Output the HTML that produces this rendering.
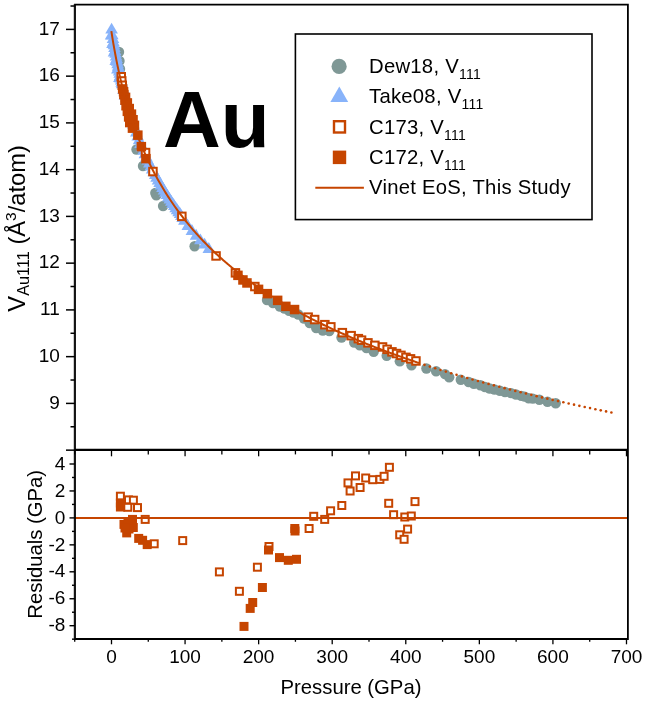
<!DOCTYPE html>
<html><head><meta charset="utf-8"><style>
html,body{margin:0;padding:0;background:#fff;width:645px;height:702px;overflow:hidden;font-family:"Liberation Sans",sans-serif}
</style></head><body>
<svg width="645" height="702" viewBox="0 0 645 702" style="position:absolute;left:0;top:0;will-change:transform">
<g fill="#7f9896">
<circle cx="119.0" cy="52.0" r="5.2"/>
<circle cx="119.5" cy="61.0" r="5.2"/>
<circle cx="120.0" cy="69.0" r="5.2"/>
<circle cx="136.5" cy="149.5" r="5.2"/>
<circle cx="143.0" cy="166.0" r="5.2"/>
<circle cx="155.3" cy="193.0" r="5.2"/>
<circle cx="156.3" cy="195.3" r="5.2"/>
<circle cx="163.1" cy="206.0" r="5.2"/>
<circle cx="194.6" cy="246.3" r="5.2"/>
<circle cx="267.0" cy="300.0" r="5.2"/>
<circle cx="273.0" cy="303.0" r="5.2"/>
<circle cx="279.9" cy="306.5" r="5.2"/>
<circle cx="284.5" cy="308.5" r="5.2"/>
<circle cx="289.1" cy="310.8" r="5.2"/>
<circle cx="293.5" cy="312.5" r="5.2"/>
<circle cx="298.3" cy="314.5" r="5.2"/>
<circle cx="304.0" cy="318.5" r="5.2"/>
<circle cx="309.7" cy="323.0" r="5.2"/>
<circle cx="316.2" cy="328.0" r="5.2"/>
<circle cx="322.8" cy="330.5" r="5.2"/>
<circle cx="329.3" cy="331.0" r="5.2"/>
<circle cx="341.5" cy="337.5" r="5.2"/>
<circle cx="354.2" cy="342.5" r="5.2"/>
<circle cx="359.8" cy="345.3" r="5.2"/>
<circle cx="366.5" cy="348.0" r="5.2"/>
<circle cx="373.7" cy="351.8" r="5.2"/>
<circle cx="386.7" cy="355.8" r="5.2"/>
<circle cx="399.8" cy="361.3" r="5.2"/>
<circle cx="411.5" cy="365.2" r="5.2"/>
<circle cx="426.4" cy="368.5" r="5.2"/>
<circle cx="436.1" cy="371.3" r="5.2"/>
<circle cx="445.0" cy="374.1" r="5.2"/>
<circle cx="449.2" cy="377.3" r="5.2"/>
<circle cx="460.8" cy="379.7" r="5.2"/>
<circle cx="468.7" cy="382.0" r="5.2"/>
<circle cx="473.9" cy="383.8" r="5.2"/>
<circle cx="480.4" cy="385.2" r="5.2"/>
<circle cx="485.0" cy="387.0" r="5.2"/>
<circle cx="489.7" cy="388.5" r="5.2"/>
<circle cx="494.5" cy="389.5" r="5.2"/>
<circle cx="499.9" cy="390.8" r="5.2"/>
<circle cx="505.0" cy="392.0" r="5.2"/>
<circle cx="511.1" cy="393.1" r="5.2"/>
<circle cx="516.0" cy="394.5" r="5.2"/>
<circle cx="521.3" cy="395.9" r="5.2"/>
<circle cx="524.7" cy="396.6" r="5.2"/>
<circle cx="528.7" cy="398.3" r="5.2"/>
<circle cx="532.8" cy="398.6" r="5.2"/>
<circle cx="539.4" cy="399.7" r="5.2"/>
<circle cx="547.5" cy="401.7" r="5.2"/>
<circle cx="555.7" cy="403.2" r="5.2"/>
</g>
<g fill="#88b3fa">
<path d="M111.6 22.7L117.9 33.6L105.3 33.6Z"/>
<path d="M112.3 28.4L118.6 39.3L106.0 39.3Z"/>
<path d="M113.0 32.2L119.3 43.1L106.7 43.1Z"/>
<path d="M113.5 35.3L119.8 46.2L107.2 46.2Z"/>
<path d="M114.0 38.3L120.3 49.2L107.7 49.2Z"/>
<path d="M114.5 41.2L120.8 52.1L108.2 52.1Z"/>
<path d="M115.0 44.1L121.3 55.0L108.7 55.0Z"/>
<path d="M115.6 46.8L121.9 57.7L109.3 57.7Z"/>
<path d="M116.1 49.6L122.4 60.5L109.8 60.5Z"/>
<path d="M116.6 52.2L122.9 63.1L110.3 63.1Z"/>
<path d="M117.1 54.8L123.4 65.7L110.8 65.7Z"/>
<path d="M117.6 57.3L123.9 68.2L111.3 68.2Z"/>
<path d="M118.1 59.8L124.4 70.7L111.8 70.7Z"/>
<path d="M118.6 62.2L124.9 73.1L112.3 73.1Z"/>
<path d="M119.2 64.6L125.5 75.5L112.9 75.5Z"/>
<path d="M119.7 66.9L126.0 77.8L113.4 77.8Z"/>
<path d="M120.2 69.2L126.5 80.1L113.9 80.1Z"/>
<path d="M120.7 71.5L127.0 82.4L114.4 82.4Z"/>
<path d="M121.2 73.7L127.5 84.6L114.9 84.6Z"/>
<path d="M121.7 75.8L128.0 86.7L115.4 86.7Z"/>
<path d="M122.1 77.3L128.4 88.2L115.8 88.2Z"/>
<path d="M123.5 83.2L129.8 94.1L117.2 94.1Z"/>
<path d="M124.9 88.7L131.2 99.6L118.6 99.6Z"/>
<path d="M126.4 94.1L132.7 105.0L120.1 105.0Z"/>
<path d="M127.8 99.1L134.1 110.0L121.5 110.0Z"/>
<path d="M129.2 104.0L135.5 114.9L122.9 114.9Z"/>
<path d="M130.6 108.7L136.9 119.6L124.3 119.6Z"/>
<path d="M132.0 113.2L138.3 124.1L125.7 124.1Z"/>
<path d="M133.4 117.5L139.7 128.4L127.1 128.4Z"/>
<path d="M134.9 121.7L141.2 132.6L128.6 132.6Z"/>
<path d="M136.3 125.7L142.6 136.6L130.0 136.6Z"/>
<path d="M137.7 129.6L144.0 140.5L131.4 140.5Z"/>
<path d="M139.1 133.3L145.4 144.2L132.8 144.2Z"/>
<path d="M140.5 137.0L146.8 147.9L134.2 147.9Z"/>
<path d="M142.0 140.5L148.3 151.4L135.7 151.4Z"/>
<path d="M143.5 143.9L149.8 154.8L137.2 154.8Z"/>
<path d="M144.9 147.3L151.2 158.2L138.6 158.2Z"/>
<path d="M146.4 150.5L152.7 161.4L140.1 161.4Z"/>
<path d="M147.8 153.6L154.1 164.5L141.5 164.5Z"/>
<path d="M149.3 156.7L155.6 167.6L143.0 167.6Z"/>
<path d="M150.8 159.7L157.1 170.6L144.5 170.6Z"/>
<path d="M152.2 162.6L158.5 173.5L145.9 173.5Z"/>
<path d="M153.7 165.4L160.0 176.3L147.4 176.3Z"/>
<path d="M155.2 168.2L161.5 179.1L148.9 179.1Z"/>
<path d="M156.6 170.9L162.9 181.8L150.3 181.8Z"/>
<path d="M158.1 173.5L164.4 184.4L151.8 184.4Z"/>
<path d="M159.6 176.1L165.9 187.0L153.3 187.0Z"/>
<path d="M161.0 178.7L167.3 189.6L154.7 189.6Z"/>
<path d="M162.5 181.1L168.8 192.0L156.2 192.0Z"/>
<path d="M164.0 183.5L170.3 194.4L157.7 194.4Z"/>
<path d="M165.4 185.9L171.7 196.8L159.1 196.8Z"/>
<path d="M166.9 188.2L173.2 199.1L160.6 199.1Z"/>
<path d="M168.3 190.5L174.6 201.4L162.0 201.4Z"/>
<path d="M169.8 192.7L176.1 203.6L163.5 203.6Z"/>
<path d="M171.3 194.9L177.6 205.8L165.0 205.8Z"/>
<path d="M172.7 197.1L179.0 208.0L166.4 208.0Z"/>
<path d="M174.2 199.2L180.5 210.1L167.9 210.1Z"/>
<path d="M175.7 201.3L182.0 212.2L169.4 212.2Z"/>
<path d="M177.1 203.3L183.4 214.2L170.8 214.2Z"/>
<path d="M178.6 205.3L184.9 216.2L172.3 216.2Z"/>
<path d="M180.1 207.2L186.4 218.1L173.8 218.1Z"/>
<path d="M181.4 209.2L187.7 220.1L175.1 220.1Z"/>
<path d="M182.6 211.1L188.9 222.0L176.3 222.0Z"/>
<path d="M184.4 213.9L190.7 224.8L178.1 224.8Z"/>
<path d="M187.8 219.1L194.1 230.0L181.5 230.0Z"/>
<path d="M191.9 224.0L198.2 234.9L185.6 234.9Z"/>
<path d="M196.1 228.8L202.4 239.7L189.8 239.7Z"/>
<path d="M200.4 233.4L206.7 244.3L194.1 244.3Z"/>
<path d="M204.6 237.7L210.9 248.6L198.3 248.6Z"/>
<path d="M208.8 242.0L215.1 252.9L202.5 252.9Z"/>
<path d="M111.1 28.6L117.4 39.5L104.8 39.5Z"/>
<path d="M112.5 37.2L118.8 48.1L106.2 48.1Z"/>
<path d="M114.0 45.7L120.3 56.6L107.7 56.6Z"/>
<path d="M115.7 54.2L122.0 65.1L109.4 65.1Z"/>
<path d="M117.4 62.7L123.7 73.6L111.1 73.6Z"/>
<path d="M119.4 71.2L125.7 82.1L113.1 82.1Z"/>
</g>
<g fill="#fff" stroke="#c64500" stroke-width="2">
<rect x="117.5" y="73.0" width="7.5" height="7.5"/>
<rect x="118.0" y="77.2" width="7.5" height="7.5"/>
<rect x="118.5" y="81.5" width="7.5" height="7.5"/>
<rect x="141.8" y="148.8" width="7.5" height="7.5"/>
<rect x="149.2" y="167.8" width="7.5" height="7.5"/>
<rect x="178.1" y="212.6" width="7.5" height="7.5"/>
<rect x="212.3" y="252.2" width="7.5" height="7.5"/>
<rect x="231.7" y="269.1" width="7.5" height="7.5"/>
<rect x="251.1" y="282.8" width="7.5" height="7.5"/>
<rect x="304.4" y="313.4" width="7.5" height="7.5"/>
<rect x="310.9" y="315.8" width="7.5" height="7.5"/>
<rect x="321.1" y="320.9" width="7.5" height="7.5"/>
<rect x="327.1" y="323.1" width="7.5" height="7.5"/>
<rect x="338.6" y="328.9" width="7.5" height="7.5"/>
<rect x="347.4" y="331.9" width="7.5" height="7.5"/>
<rect x="354.6" y="334.9" width="7.5" height="7.5"/>
<rect x="357.8" y="336.4" width="7.5" height="7.5"/>
<rect x="364.2" y="339.1" width="7.5" height="7.5"/>
<rect x="371.1" y="341.6" width="7.5" height="7.5"/>
<rect x="378.8" y="343.2" width="7.5" height="7.5"/>
<rect x="383.4" y="345.6" width="7.5" height="7.5"/>
<rect x="388.2" y="348.1" width="7.5" height="7.5"/>
<rect x="392.8" y="349.8" width="7.5" height="7.5"/>
<rect x="397.2" y="351.6" width="7.5" height="7.5"/>
<rect x="402.2" y="353.6" width="7.5" height="7.5"/>
<rect x="406.8" y="355.1" width="7.5" height="7.5"/>
<rect x="412.2" y="357.2" width="7.5" height="7.5"/>
</g>
<g fill="#c64500">
<rect x="117.9" y="84.2" width="9.5" height="9.5"/>
<rect x="118.8" y="87.0" width="9.5" height="9.5"/>
<rect x="119.1" y="89.8" width="9.5" height="9.5"/>
<rect x="120.8" y="92.6" width="9.5" height="9.5"/>
<rect x="120.2" y="95.4" width="9.5" height="9.5"/>
<rect x="122.6" y="98.2" width="9.5" height="9.5"/>
<rect x="121.3" y="101.0" width="9.5" height="9.5"/>
<rect x="124.5" y="103.8" width="9.5" height="9.5"/>
<rect x="122.6" y="106.6" width="9.5" height="9.5"/>
<rect x="126.7" y="109.4" width="9.5" height="9.5"/>
<rect x="123.9" y="112.2" width="9.5" height="9.5"/>
<rect x="128.3" y="115.0" width="9.5" height="9.5"/>
<rect x="125.0" y="117.8" width="9.5" height="9.5"/>
<rect x="129.7" y="120.6" width="9.5" height="9.5"/>
<rect x="127.7" y="123.4" width="9.5" height="9.5"/>
<rect x="133.1" y="130.4" width="9.5" height="9.5"/>
<rect x="136.6" y="141.9" width="9.5" height="9.5"/>
<rect x="141.2" y="153.9" width="9.5" height="9.5"/>
<rect x="233.2" y="270.6" width="9.5" height="9.5"/>
<rect x="238.2" y="275.2" width="9.5" height="9.5"/>
<rect x="242.2" y="278.2" width="9.5" height="9.5"/>
<rect x="253.8" y="284.6" width="9.5" height="9.5"/>
<rect x="262.6" y="288.9" width="9.5" height="9.5"/>
<rect x="272.9" y="295.6" width="9.5" height="9.5"/>
<rect x="281.1" y="301.6" width="9.5" height="9.5"/>
<rect x="289.8" y="304.8" width="9.5" height="9.5"/>
</g>
<path d="M111.35 31.09 L112.38 37.64 L113.41 43.82 L114.44 49.68 L115.47 55.26 L116.50 60.57 L117.53 65.64 L118.56 70.50 L119.58 75.16 L120.61 79.63 L121.64 83.94 L122.67 88.09 L123.70 92.10 L124.73 95.97 L125.76 99.71 L126.79 103.34 L127.82 106.86 L128.85 110.27 L129.87 113.59 L130.90 116.81 L131.93 119.95 L132.96 123.00 L133.99 125.97 L135.02 128.87 L136.05 131.70 L137.08 134.46 L138.11 137.16 L139.14 139.79 L140.16 142.37 L141.19 144.89 L142.22 147.36 L143.25 149.77 L144.28 152.14 L145.31 154.46 L146.34 156.73 L147.37 158.96 L148.40 161.14 L149.43 163.29 L150.45 165.40 L151.48 167.47 L152.51 169.50 L153.54 171.50 L154.57 173.46 L155.60 175.39 L156.63 177.29 L157.66 179.16 L158.69 181.00 L159.72 182.80 L160.74 184.59 L161.77 186.34 L162.80 188.07 L163.83 189.77 L164.86 191.45 L165.89 193.10 L166.92 194.73 L167.95 196.34 L168.98 197.92 L170.01 199.48 L171.03 201.02 L172.06 202.54 L173.09 204.05 L174.12 205.53 L175.15 206.99 L176.18 208.43 L177.21 209.86 L178.24 211.27 L179.27 212.66 L180.30 214.03 L181.32 215.39 L182.35 216.73 L183.38 218.06 L184.41 219.37 L185.44 220.67 L186.47 221.95 L187.50 223.21 L188.53 224.47 L189.56 225.71 L190.59 226.93 L191.61 228.14 L192.64 229.34 L193.67 230.53 L194.70 231.71 L195.73 232.87 L196.76 234.02 L197.79 235.16 L198.82 236.28 L199.85 237.40 L200.88 238.51 L201.90 239.60 L202.93 240.69 L203.96 241.76 L204.99 242.82 L206.02 243.88 L207.05 244.92 L208.08 245.95 L209.11 246.98 L210.14 247.99 L211.17 249.00 L212.19 250.00 L213.22 250.98 L214.25 251.96 L215.28 252.94 L216.31 253.90 L217.34 254.85 L218.37 255.80 L219.40 256.74 L220.43 257.67 L221.46 258.59 L222.48 259.50 L223.51 260.41 L224.54 261.31 L225.57 262.21 L226.60 263.09 L227.63 263.97 L228.66 264.84 L229.69 265.71 L230.72 266.56 L231.75 267.42 L232.77 268.26 L233.80 269.10 L234.83 269.93 L235.86 270.76 L236.89 271.58 L237.92 272.39 L238.95 273.20 L239.98 274.00 L241.01 274.80 L242.04 275.59 L243.06 276.37 L244.09 277.15 L245.12 277.93 L246.15 278.69 L247.18 279.46 L248.21 280.21 L249.24 280.97 L250.27 281.71 L251.30 282.46 L252.33 283.19 L253.35 283.93 L254.38 284.65 L255.41 285.37 L256.44 286.09 L257.47 286.81 L258.50 287.51 L259.53 288.22 L260.56 288.92 L261.59 289.61 L262.62 290.30 L263.64 290.99 L264.67 291.67 L265.70 292.35 L266.73 293.02 L267.76 293.69 L268.79 294.35 L269.82 295.01 L270.85 295.67 L271.88 296.32 L272.91 296.97 L273.93 297.62 L274.96 298.26 L275.99 298.90 L277.02 299.53 L278.05 300.16 L279.08 300.78 L280.11 301.41 L281.14 302.03 L282.17 302.64 L283.20 303.25 L284.22 303.86 L285.25 304.47 L286.28 305.07 L287.31 305.67 L288.34 306.26 L289.37 306.85 L290.40 307.44 L291.43 308.03 L292.46 308.61 L293.49 309.19 L294.51 309.76 L295.54 310.34 L296.57 310.91 L297.60 311.47 L298.63 312.03 L299.66 312.60 L300.69 313.15 L301.72 313.71 L302.75 314.26 L303.78 314.81 L304.80 315.35 L305.83 315.90 L306.86 316.44 L307.89 316.98 L308.92 317.51 L309.95 318.04 L310.98 318.57 L312.01 319.10 L313.04 319.62 L314.07 320.15 L315.09 320.67 L316.12 321.18 L317.15 321.70 L318.18 322.21 L319.21 322.72 L320.24 323.22 L321.27 323.73 L322.30 324.23 L323.33 324.73 L324.35 325.23 L325.38 325.72 L326.41 326.21 L327.44 326.70 L328.47 327.19 L329.50 327.68 L330.53 328.16 L331.56 328.64 L332.59 329.12 L333.62 329.60 L334.64 330.07 L335.67 330.55 L336.70 331.02 L337.73 331.48 L338.76 331.95 L339.79 332.41 L340.82 332.88 L341.85 333.34 L342.88 333.79 L343.91 334.25 L344.93 334.70 L345.96 335.16 L346.99 335.61 L348.02 336.05 L349.05 336.50 L350.08 336.95 L351.11 337.39 L352.14 337.83 L353.17 338.27 L354.20 338.70 L355.22 339.14 L356.25 339.57 L357.28 340.00 L358.31 340.43 L359.34 340.86 L360.37 341.29 L361.40 341.71 L362.43 342.13 L363.46 342.55 L364.49 342.97 L365.51 343.39 L366.54 343.81 L367.57 344.22 L368.60 344.63 L369.63 345.04 L370.66 345.45 L371.69 345.86 L372.72 346.27 L373.75 346.67 L374.78 347.07 L375.80 347.47 L376.83 347.87 L377.86 348.27 L378.89 348.67 L379.92 349.06 L380.95 349.46 L381.98 349.85 L383.01 350.24 L384.04 350.63 L385.07 351.01 L386.09 351.40 L387.12 351.79 L388.15 352.17 L389.18 352.55 L390.21 352.93 L391.24 353.31 L392.27 353.69 L393.30 354.06 L394.33 354.44 L395.36 354.81 L396.38 355.18 L397.41 355.55 L398.44 355.92 L399.47 356.29 L400.50 356.66 L401.53 357.02 L402.56 357.39 L403.59 357.75 L404.62 358.11 L405.65 358.47 L406.67 358.83 L407.70 359.19 L408.73 359.54 L409.76 359.90 L410.79 360.25 L411.82 360.60 L412.85 360.95 L413.88 361.30 L414.91 361.65 L415.94 362.00 L416.96 362.35 L417.99 362.69 L419.02 363.04" fill="none" stroke="#c64500" stroke-width="2"/>
<g fill="#c64500">
<circle cx="424.50" cy="364.85" r="1.3"/>
<circle cx="429.84" cy="366.59" r="1.3"/>
<circle cx="435.18" cy="368.29" r="1.3"/>
<circle cx="440.52" cy="369.97" r="1.3"/>
<circle cx="445.86" cy="371.62" r="1.3"/>
<circle cx="451.20" cy="373.24" r="1.3"/>
<circle cx="456.54" cy="374.84" r="1.3"/>
<circle cx="461.88" cy="376.41" r="1.3"/>
<circle cx="467.22" cy="377.96" r="1.3"/>
<circle cx="472.56" cy="379.48" r="1.3"/>
<circle cx="477.90" cy="380.98" r="1.3"/>
<circle cx="483.24" cy="382.46" r="1.3"/>
<circle cx="488.58" cy="383.92" r="1.3"/>
<circle cx="493.92" cy="385.35" r="1.3"/>
<circle cx="499.26" cy="386.77" r="1.3"/>
<circle cx="504.60" cy="388.16" r="1.3"/>
<circle cx="509.94" cy="389.53" r="1.3"/>
<circle cx="515.28" cy="390.89" r="1.3"/>
<circle cx="520.62" cy="392.23" r="1.3"/>
<circle cx="525.96" cy="393.55" r="1.3"/>
<circle cx="531.30" cy="394.85" r="1.3"/>
<circle cx="536.64" cy="396.13" r="1.3"/>
<circle cx="541.98" cy="397.40" r="1.3"/>
<circle cx="547.32" cy="398.65" r="1.3"/>
<circle cx="552.66" cy="399.88" r="1.3"/>
<circle cx="558.00" cy="401.10" r="1.3"/>
<circle cx="563.34" cy="402.30" r="1.3"/>
<circle cx="568.68" cy="403.49" r="1.3"/>
<circle cx="574.02" cy="404.67" r="1.3"/>
<circle cx="579.36" cy="405.83" r="1.3"/>
<circle cx="584.70" cy="406.97" r="1.3"/>
<circle cx="590.04" cy="408.10" r="1.3"/>
<circle cx="595.38" cy="409.22" r="1.3"/>
<circle cx="600.72" cy="410.33" r="1.3"/>
<circle cx="606.06" cy="411.42" r="1.3"/>
<circle cx="611.40" cy="412.50" r="1.3"/>
</g>
<g fill="#fff" stroke="#c64500" stroke-width="2">
<rect x="116.9" y="492.7" width="7" height="7"/>
<rect x="125.0" y="496.4" width="7" height="7"/>
<rect x="129.9" y="496.7" width="7" height="7"/>
<rect x="124.3" y="503.8" width="7" height="7"/>
<rect x="134.0" y="504.1" width="7" height="7"/>
<rect x="141.7" y="515.9" width="7" height="7"/>
<rect x="150.7" y="540.3" width="7" height="7"/>
<rect x="179.2" y="537.1" width="7" height="7"/>
<rect x="215.9" y="568.4" width="7" height="7"/>
<rect x="235.9" y="587.8" width="7" height="7"/>
<rect x="253.9" y="563.7" width="7" height="7"/>
<rect x="265.5" y="543.0" width="7" height="7"/>
<rect x="305.6" y="525.0" width="7" height="7"/>
<rect x="310.2" y="512.8" width="7" height="7"/>
<rect x="321.2" y="515.9" width="7" height="7"/>
<rect x="327.1" y="507.3" width="7" height="7"/>
<rect x="338.3" y="502.0" width="7" height="7"/>
<rect x="344.5" y="479.4" width="7" height="7"/>
<rect x="346.6" y="487.5" width="7" height="7"/>
<rect x="352.0" y="472.4" width="7" height="7"/>
<rect x="356.6" y="484.0" width="7" height="7"/>
<rect x="362.2" y="474.5" width="7" height="7"/>
<rect x="369.2" y="476.2" width="7" height="7"/>
<rect x="376.4" y="475.9" width="7" height="7"/>
<rect x="380.6" y="472.8" width="7" height="7"/>
<rect x="385.9" y="463.8" width="7" height="7"/>
<rect x="385.2" y="499.8" width="7" height="7"/>
<rect x="390.1" y="511.2" width="7" height="7"/>
<rect x="401.3" y="513.5" width="7" height="7"/>
<rect x="407.8" y="512.5" width="7" height="7"/>
<rect x="411.5" y="498.1" width="7" height="7"/>
<rect x="404.1" y="525.6" width="7" height="7"/>
<rect x="396.2" y="531.3" width="7" height="7"/>
<rect x="400.6" y="535.8" width="7" height="7"/>
</g>
<g fill="#c64500">
<rect x="115.9" y="498.5" width="9" height="9"/>
<rect x="115.9" y="502.5" width="9" height="9"/>
<rect x="128.0" y="514.9" width="9" height="9"/>
<rect x="119.5" y="519.9" width="9" height="9"/>
<rect x="122.2" y="528.4" width="9" height="9"/>
<rect x="128.8" y="523.0" width="9" height="9"/>
<rect x="134.2" y="533.9" width="9" height="9"/>
<rect x="138.1" y="535.8" width="9" height="9"/>
<rect x="142.7" y="540.1" width="9" height="9"/>
<rect x="123.5" y="517.5" width="9" height="9"/>
<rect x="124.5" y="524.5" width="9" height="9"/>
<rect x="120.5" y="523.5" width="9" height="9"/>
<rect x="239.5" y="621.9" width="9" height="9"/>
<rect x="245.7" y="603.9" width="9" height="9"/>
<rect x="248.2" y="598.0" width="9" height="9"/>
<rect x="257.9" y="583.0" width="9" height="9"/>
<rect x="264.0" y="545.5" width="9" height="9"/>
<rect x="275.0" y="553.1" width="9" height="9"/>
<rect x="283.8" y="555.8" width="9" height="9"/>
<rect x="292.0" y="554.8" width="9" height="9"/>
<rect x="290.3" y="524.0" width="9" height="9"/>
<rect x="290.5" y="526.5" width="9" height="9"/>
</g>
<line x1="75" y1="517.9" x2="628" y2="517.9" stroke="#c64500" stroke-width="2"/>
<g stroke="#000" fill="none">
<path d="M75 4.7 H627.9 V639 H75 Z" stroke-width="1.8" stroke-linejoin="miter"/>
<line x1="74" y1="4" x2="74" y2="639.9" stroke-width="0.4"/>
<line x1="75" y1="449.8" x2="628" y2="449.8" stroke-width="2.3"/>
<line x1="66" y1="450.15" x2="75" y2="450.15" stroke-width="1.5"/>
<line x1="70.5" y1="426.77" x2="75" y2="426.77" stroke-width="1.5"/>
<line x1="66" y1="403.40" x2="75" y2="403.40" stroke-width="1.5"/>
<line x1="70.5" y1="380.02" x2="75" y2="380.02" stroke-width="1.5"/>
<line x1="66" y1="356.65" x2="75" y2="356.65" stroke-width="1.5"/>
<line x1="70.5" y1="333.27" x2="75" y2="333.27" stroke-width="1.5"/>
<line x1="66" y1="309.90" x2="75" y2="309.90" stroke-width="1.5"/>
<line x1="70.5" y1="286.52" x2="75" y2="286.52" stroke-width="1.5"/>
<line x1="66" y1="263.15" x2="75" y2="263.15" stroke-width="1.5"/>
<line x1="70.5" y1="239.78" x2="75" y2="239.78" stroke-width="1.5"/>
<line x1="66" y1="216.40" x2="75" y2="216.40" stroke-width="1.5"/>
<line x1="70.5" y1="193.03" x2="75" y2="193.03" stroke-width="1.5"/>
<line x1="66" y1="169.65" x2="75" y2="169.65" stroke-width="1.5"/>
<line x1="70.5" y1="146.28" x2="75" y2="146.28" stroke-width="1.5"/>
<line x1="66" y1="122.90" x2="75" y2="122.90" stroke-width="1.5"/>
<line x1="70.5" y1="99.53" x2="75" y2="99.53" stroke-width="1.5"/>
<line x1="66" y1="76.15" x2="75" y2="76.15" stroke-width="1.5"/>
<line x1="70.5" y1="52.77" x2="75" y2="52.77" stroke-width="1.5"/>
<line x1="66" y1="29.40" x2="75" y2="29.40" stroke-width="1.5"/>
<line x1="70.5" y1="6.02" x2="75" y2="6.02" stroke-width="1.5"/>
<line x1="72" y1="639.17" x2="75" y2="639.17" stroke-width="1.4"/>
<line x1="69.5" y1="625.70" x2="75" y2="625.70" stroke-width="1.4"/>
<line x1="72" y1="612.23" x2="75" y2="612.23" stroke-width="1.4"/>
<line x1="69.5" y1="598.75" x2="75" y2="598.75" stroke-width="1.4"/>
<line x1="72" y1="585.27" x2="75" y2="585.27" stroke-width="1.4"/>
<line x1="69.5" y1="571.80" x2="75" y2="571.80" stroke-width="1.4"/>
<line x1="72" y1="558.32" x2="75" y2="558.32" stroke-width="1.4"/>
<line x1="69.5" y1="544.85" x2="75" y2="544.85" stroke-width="1.4"/>
<line x1="72" y1="531.38" x2="75" y2="531.38" stroke-width="1.4"/>
<line x1="69.5" y1="517.90" x2="75" y2="517.90" stroke-width="1.4"/>
<line x1="72" y1="504.42" x2="75" y2="504.42" stroke-width="1.4"/>
<line x1="69.5" y1="490.95" x2="75" y2="490.95" stroke-width="1.4"/>
<line x1="72" y1="477.47" x2="75" y2="477.47" stroke-width="1.4"/>
<line x1="69.5" y1="464.00" x2="75" y2="464.00" stroke-width="1.4"/>
<line x1="74.72" y1="639" x2="74.72" y2="641.8" stroke-width="1.3"/>
<line x1="74.72" y1="449.8" x2="74.72" y2="454.4" stroke-width="1.3"/>
<line x1="111.50" y1="639" x2="111.50" y2="644.3" stroke-width="1.3"/>
<line x1="111.50" y1="449.8" x2="111.50" y2="456.3" stroke-width="1.3"/>
<line x1="148.28" y1="639" x2="148.28" y2="641.8" stroke-width="1.3"/>
<line x1="148.28" y1="449.8" x2="148.28" y2="454.4" stroke-width="1.3"/>
<line x1="185.07" y1="639" x2="185.07" y2="644.3" stroke-width="1.3"/>
<line x1="185.07" y1="449.8" x2="185.07" y2="456.3" stroke-width="1.3"/>
<line x1="221.86" y1="639" x2="221.86" y2="641.8" stroke-width="1.3"/>
<line x1="221.86" y1="449.8" x2="221.86" y2="454.4" stroke-width="1.3"/>
<line x1="258.64" y1="639" x2="258.64" y2="644.3" stroke-width="1.3"/>
<line x1="258.64" y1="449.8" x2="258.64" y2="456.3" stroke-width="1.3"/>
<line x1="295.43" y1="639" x2="295.43" y2="641.8" stroke-width="1.3"/>
<line x1="295.43" y1="449.8" x2="295.43" y2="454.4" stroke-width="1.3"/>
<line x1="332.21" y1="639" x2="332.21" y2="644.3" stroke-width="1.3"/>
<line x1="332.21" y1="449.8" x2="332.21" y2="456.3" stroke-width="1.3"/>
<line x1="369.00" y1="639" x2="369.00" y2="641.8" stroke-width="1.3"/>
<line x1="369.00" y1="449.8" x2="369.00" y2="454.4" stroke-width="1.3"/>
<line x1="405.78" y1="639" x2="405.78" y2="644.3" stroke-width="1.3"/>
<line x1="405.78" y1="449.8" x2="405.78" y2="456.3" stroke-width="1.3"/>
<line x1="442.56" y1="639" x2="442.56" y2="641.8" stroke-width="1.3"/>
<line x1="442.56" y1="449.8" x2="442.56" y2="454.4" stroke-width="1.3"/>
<line x1="479.35" y1="639" x2="479.35" y2="644.3" stroke-width="1.3"/>
<line x1="479.35" y1="449.8" x2="479.35" y2="456.3" stroke-width="1.3"/>
<line x1="516.13" y1="639" x2="516.13" y2="641.8" stroke-width="1.3"/>
<line x1="516.13" y1="449.8" x2="516.13" y2="454.4" stroke-width="1.3"/>
<line x1="552.92" y1="639" x2="552.92" y2="644.3" stroke-width="1.3"/>
<line x1="552.92" y1="449.8" x2="552.92" y2="456.3" stroke-width="1.3"/>
<line x1="589.71" y1="639" x2="589.71" y2="641.8" stroke-width="1.3"/>
<line x1="589.71" y1="449.8" x2="589.71" y2="454.4" stroke-width="1.3"/>
<line x1="626.49" y1="639" x2="626.49" y2="644.3" stroke-width="1.3"/>
<line x1="626.49" y1="449.8" x2="626.49" y2="456.3" stroke-width="1.3"/>
</g>
<g font-family="Liberation Sans, sans-serif" fill="#000">
<text x="59.8" y="408.6" font-size="19" text-anchor="end">9</text>
<text x="59.8" y="361.8" font-size="19" text-anchor="end">10</text>
<text x="59.8" y="315.1" font-size="19" text-anchor="end">11</text>
<text x="59.8" y="268.3" font-size="19" text-anchor="end">12</text>
<text x="59.8" y="221.6" font-size="19" text-anchor="end">13</text>
<text x="59.8" y="174.8" font-size="19" text-anchor="end">14</text>
<text x="59.8" y="128.1" font-size="19" text-anchor="end">15</text>
<text x="59.8" y="81.4" font-size="19" text-anchor="end">16</text>
<text x="59.8" y="34.6" font-size="19" text-anchor="end">17</text>
<text x="65.4" y="469.6" font-size="19" text-anchor="end">4</text>
<text x="65.4" y="496.6" font-size="19" text-anchor="end">2</text>
<text x="65.4" y="523.5" font-size="19" text-anchor="end">0</text>
<text x="65.4" y="550.5" font-size="19" text-anchor="end">-2</text>
<text x="65.4" y="577.4" font-size="19" text-anchor="end">-4</text>
<text x="65.4" y="604.4" font-size="19" text-anchor="end">-6</text>
<text x="65.4" y="631.3" font-size="19" text-anchor="end">-8</text>
<text x="111.5" y="663" font-size="19" text-anchor="middle">0</text>
<text x="185.1" y="663" font-size="19" text-anchor="middle">100</text>
<text x="258.6" y="663" font-size="19" text-anchor="middle">200</text>
<text x="332.2" y="663" font-size="19" text-anchor="middle">300</text>
<text x="405.8" y="663" font-size="19" text-anchor="middle">400</text>
<text x="479.4" y="663" font-size="19" text-anchor="middle">500</text>
<text x="552.9" y="663" font-size="19" text-anchor="middle">600</text>
<text x="626.5" y="663" font-size="19" text-anchor="middle">700</text>
<text x="351" y="694" font-size="20.3" text-anchor="middle">Pressure (GPa)</text>
<text transform="translate(41.9,544.3) rotate(-90)" x="0" y="0" font-size="20.3" text-anchor="middle">Residuals (GPa)</text>
<text transform="translate(25,228.4) rotate(-90)" x="0" y="0" font-size="23.7" text-anchor="middle">V<tspan font-size="16.3" dy="4">Au111</tspan><tspan dy="-4"> (Å</tspan><tspan font-size="15.5" dy="-9.5">3</tspan><tspan dy="9.5">/atom)</tspan></text>
<text x="163" y="146.8" font-size="80" font-weight="bold">Au</text>
</g>
<rect x="295.4" y="34" width="296.6" height="185.6" fill="#fff" stroke="#000" stroke-width="1.6"/>
<circle cx="339.1" cy="66.4" r="7.6" fill="#7f9896"/>
<path d="M339.3 86.4 L348.2 101.9 L330.4 101.9 Z" fill="#88b3fa"/>
<rect x="334" y="121.2" width="11" height="11.3" fill="#fff" stroke="#c64500" stroke-width="2.4"/>
<rect x="332.8" y="150.6" width="13.4" height="13.5" fill="#c64500"/>
<line x1="315.3" y1="187.7" x2="363.9" y2="187.7" stroke="#c64500" stroke-width="2"/>
<g font-family="Liberation Sans, sans-serif" fill="#000" font-size="20.3" letter-spacing="0.25">
<text x="369" y="72.6">Dew18, V<tspan font-size="14" dy="6.4">111</tspan></text>
<text x="369" y="103">Take08, V<tspan font-size="14" dy="6.4">111</tspan></text>
<text x="369" y="133.6">C173, V<tspan font-size="14" dy="6.4">111</tspan></text>
<text x="369" y="164">C172, V<tspan font-size="14" dy="6.4">111</tspan></text>
<text x="369" y="194.4">Vinet EoS, This Study</text>
</g>
</svg>
</body></html>
